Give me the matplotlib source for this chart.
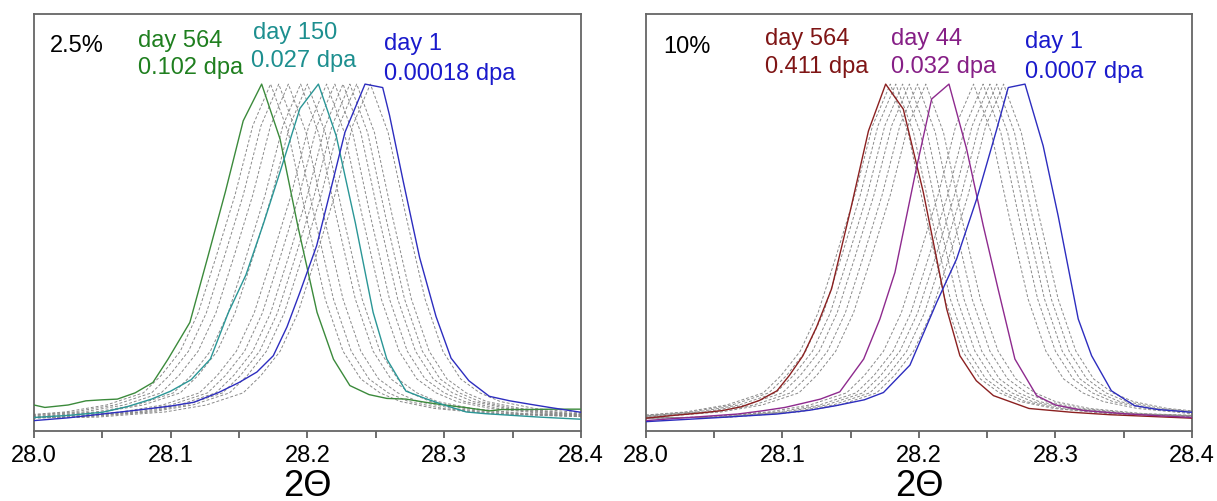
import numpy as np
import matplotlib.pyplot as plt

plt.rcParams['font.family'] = ['Liberation Sans', 'DejaVu Sans']

# ---- data (2theta, normalised intensity) ----
tick_vals = [28.0, 28.1, 28.2, 28.3, 28.4]
tick_labels = ['28.0', '28.1', '28.2', '28.3', '28.4']
minor_vals = [28.05, 28.15, 28.25, 28.35]

# 2.5 % sample
green_x = [28.000, 28.008, 28.025, 28.038, 28.050, 28.061, 28.074, 28.087, 28.098, 28.114,
           28.127, 28.140, 28.153, 28.1665, 28.180, 28.193, 28.207, 28.219, 28.231, 28.245,
           28.258, 28.272, 28.286, 28.300, 28.315, 28.333, 28.342, 28.360, 28.380, 28.400]
green_y = [0.075, 0.068, 0.075, 0.087, 0.090, 0.092, 0.110, 0.140, 0.207, 0.313,
           0.500, 0.690, 0.894, 1.000, 0.841, 0.590, 0.342, 0.207, 0.131, 0.105,
           0.094, 0.092, 0.083, 0.075, 0.068, 0.058, 0.062, 0.062, 0.063, 0.063]

teal_x = [28.000, 28.025, 28.050, 28.068, 28.086, 28.100, 28.115, 28.129, 28.142, 28.155,
          28.168, 28.181, 28.1945, 28.208, 28.221, 28.235, 28.248, 28.258, 28.272, 28.286,
          28.300, 28.316, 28.330, 28.350, 28.370, 28.400]
teal_y = [0.039, 0.045, 0.054, 0.070, 0.092, 0.115, 0.148, 0.2075, 0.34, 0.45,
          0.60, 0.76, 0.93, 1.0, 0.851, 0.60, 0.342, 0.2075, 0.115, 0.094,
          0.075, 0.055, 0.050, 0.045, 0.040, 0.034]

blue1_x = [28.000, 28.025, 28.050, 28.075, 28.100, 28.117, 28.135, 28.150, 28.163, 28.175,
           28.185, 28.1945, 28.2067, 28.2165, 28.2274, 28.2421, 28.255, 28.260, 28.270, 28.282,
           28.294, 28.305, 28.318, 28.333, 28.348, 28.363, 28.377, 28.400]
blue1_y = [0.030, 0.038, 0.049, 0.060, 0.072, 0.083, 0.111, 0.14, 0.17, 0.217,
           0.30, 0.40, 0.534, 0.688, 0.861, 1.0, 0.99, 0.91, 0.72, 0.50,
           0.33, 0.21, 0.145, 0.10, 0.087, 0.077, 0.068, 0.054]

# 10 % sample
red_x = [28.000, 28.020, 28.040, 28.056, 28.070, 28.083, 28.096, 28.105, 28.115, 28.125,
         28.136, 28.150, 28.163, 28.1756, 28.1885, 28.2032, 28.213, 28.2203, 28.230, 28.242,
         28.2546, 28.2806, 28.312, 28.340, 28.370, 28.400]
red_y = [0.037, 0.045, 0.052, 0.059, 0.070, 0.088, 0.116, 0.16, 0.217, 0.30,
         0.41, 0.64, 0.865, 1.0, 0.928, 0.688, 0.496, 0.352, 0.217, 0.145,
         0.102, 0.065, 0.054, 0.047, 0.042, 0.037]

purple_x = [28.000, 28.035, 28.0672, 28.085, 28.1018, 28.115, 28.1278, 28.142, 28.1595, 28.1714,
            28.1824, 28.198, 28.2093, 28.222, 28.2349, 28.2471, 28.258, 28.2703, 28.2862, 28.300,
            28.321, 28.350, 28.375, 28.400]
purple_y = [0.030, 0.040, 0.049, 0.058, 0.068, 0.080, 0.092, 0.113, 0.2075, 0.323,
            0.457, 0.755, 0.957, 1.0, 0.813, 0.592, 0.409, 0.2075, 0.102, 0.075,
            0.059, 0.050, 0.044, 0.039]

blue2_x = [28.000, 28.050, 28.096, 28.120, 28.139, 28.160, 28.174, 28.1934, 28.213, 28.2276,
           28.2423, 28.257, 28.2654, 28.2777, 28.291, 28.302, 28.3167, 28.3265, 28.341, 28.358,
           28.375, 28.400]
blue2_y = [0.027, 0.038, 0.049, 0.060, 0.073, 0.090, 0.111, 0.19, 0.371, 0.496,
           0.669, 0.870, 0.990, 1.0, 0.822, 0.620, 0.323, 0.217, 0.116, 0.073,
           0.062, 0.054]

# intermediate days (grey dashed): measured peak profile + peak positions
profile_dx = [-0.40, -0.20, -0.15, -0.12, -0.093, -0.080, -0.066, -0.053, -0.040, -0.026, -0.013, 0.0,
              0.013, 0.026, 0.040, 0.053, 0.066, 0.080, 0.095, 0.12, 0.16, 0.22, 0.40]
profile_y = [0.030, 0.040, 0.055, 0.075, 0.11, 0.16, 0.23, 0.34, 0.50, 0.68, 0.88, 1.0,
             0.86, 0.62, 0.38, 0.23, 0.15, 0.11, 0.085, 0.065, 0.050, 0.042, 0.035]
grey_peaks_25 = [28.173, 28.179, 28.186, 28.195, 28.200, 28.214, 28.220, 28.226, 28.231, 28.236, 28.246]
grey_peaks_10 = [28.179, 28.183, 28.188, 28.193, 28.199, 28.205, 28.240, 28.247, 28.252, 28.257, 28.262]


def setup(ax):
    ax.set_xlim(28.0, 28.4)
    ax.set_ylim(0, 1.202)
    ax.set_yticks([])
    ax.set_xticks(tick_vals)
    ax.set_xticklabels(tick_labels)
    ax.set_xticks(minor_vals, minor=True)
    ax.tick_params(which='both', direction='out', length=5, width=1.2, color='#555555',
                   labelsize=17, pad=4)
    for s in ax.spines.values():
        s.set_color('#666666')
        s.set_linewidth(1.3)
    ax.set_xlabel('2\u0398', fontsize=26, labelpad=2)


def grey_lines(ax, peaks):
    for c in peaks:
        ax.plot(np.array(profile_dx) + c, profile_y, color='#8a8a8a', lw=0.7,
                ls=(0, (3, 2)), zorder=1)


fig = plt.figure(figsize=(12.17, 5.02), dpi=100)
ax1 = fig.add_axes([0.0279, 0.1394, 0.4495, 0.8307])
ax2 = fig.add_axes([0.5308, 0.1394, 0.4486, 0.8307])

# left: 2.5 %
grey_lines(ax1, grey_peaks_25)
ax1.plot(green_x, green_y, color='#3b8a3b', lw=1.0, zorder=3)
ax1.plot(teal_x, teal_y, color='#2a9696', lw=1.0, zorder=3)
ax1.plot(blue1_x, blue1_y, color='#2d2dbf', lw=1.0, zorder=3)
setup(ax1)

t = ax1.transAxes
ax1.text(0.029, 0.911, '2.5%', fontsize=17, color='black', transform=t)
ax1.text(0.191, 0.924, 'day 564', fontsize=17, color='#1f7f1f', transform=t)
ax1.text(0.191, 0.8585, '0.102 dpa', fontsize=17, color='#1f7f1f', transform=t)
ax1.text(0.3996, 0.9417, 'day 150', fontsize=17, color='#1d8f8f', transform=t)
ax1.text(0.396, 0.876, '0.027 dpa', fontsize=17, color='#1d8f8f', transform=t)
ax1.text(0.6395, 0.916, 'day 1', fontsize=17, color='#1a1acc', transform=t)
ax1.text(0.6395, 0.844, '0.00018 dpa', fontsize=17, color='#1a1acc', transform=t)

# right: 10 %
grey_lines(ax2, grey_peaks_10)
ax2.plot(red_x, red_y, color='#8b2020', lw=1.0, zorder=3)
ax2.plot(purple_x, purple_y, color='#8e2a8e', lw=1.0, zorder=3)
ax2.plot(blue2_x, blue2_y, color='#2d2dbf', lw=1.0, zorder=3)
setup(ax2)

t = ax2.transAxes
ax2.text(0.031, 0.908, '10%', fontsize=17, color='black', transform=t)
ax2.text(0.2185, 0.928, 'day 564', fontsize=17, color='#7f1515', transform=t)
ax2.text(0.2185, 0.860, '0.411 dpa', fontsize=17, color='#7f1515', transform=t)
ax2.text(0.449, 0.928, 'day 44', fontsize=17, color='#861f86', transform=t)
ax2.text(0.449, 0.860, '0.032 dpa', fontsize=17, color='#861f86', transform=t)
ax2.text(0.695, 0.920, 'day 1', fontsize=17, color='#1a1acc', transform=t)
ax2.text(0.695, 0.848, '0.0007 dpa', fontsize=17, color='#1a1acc', transform=t)

plt.savefig('out.png', dpi=100)
